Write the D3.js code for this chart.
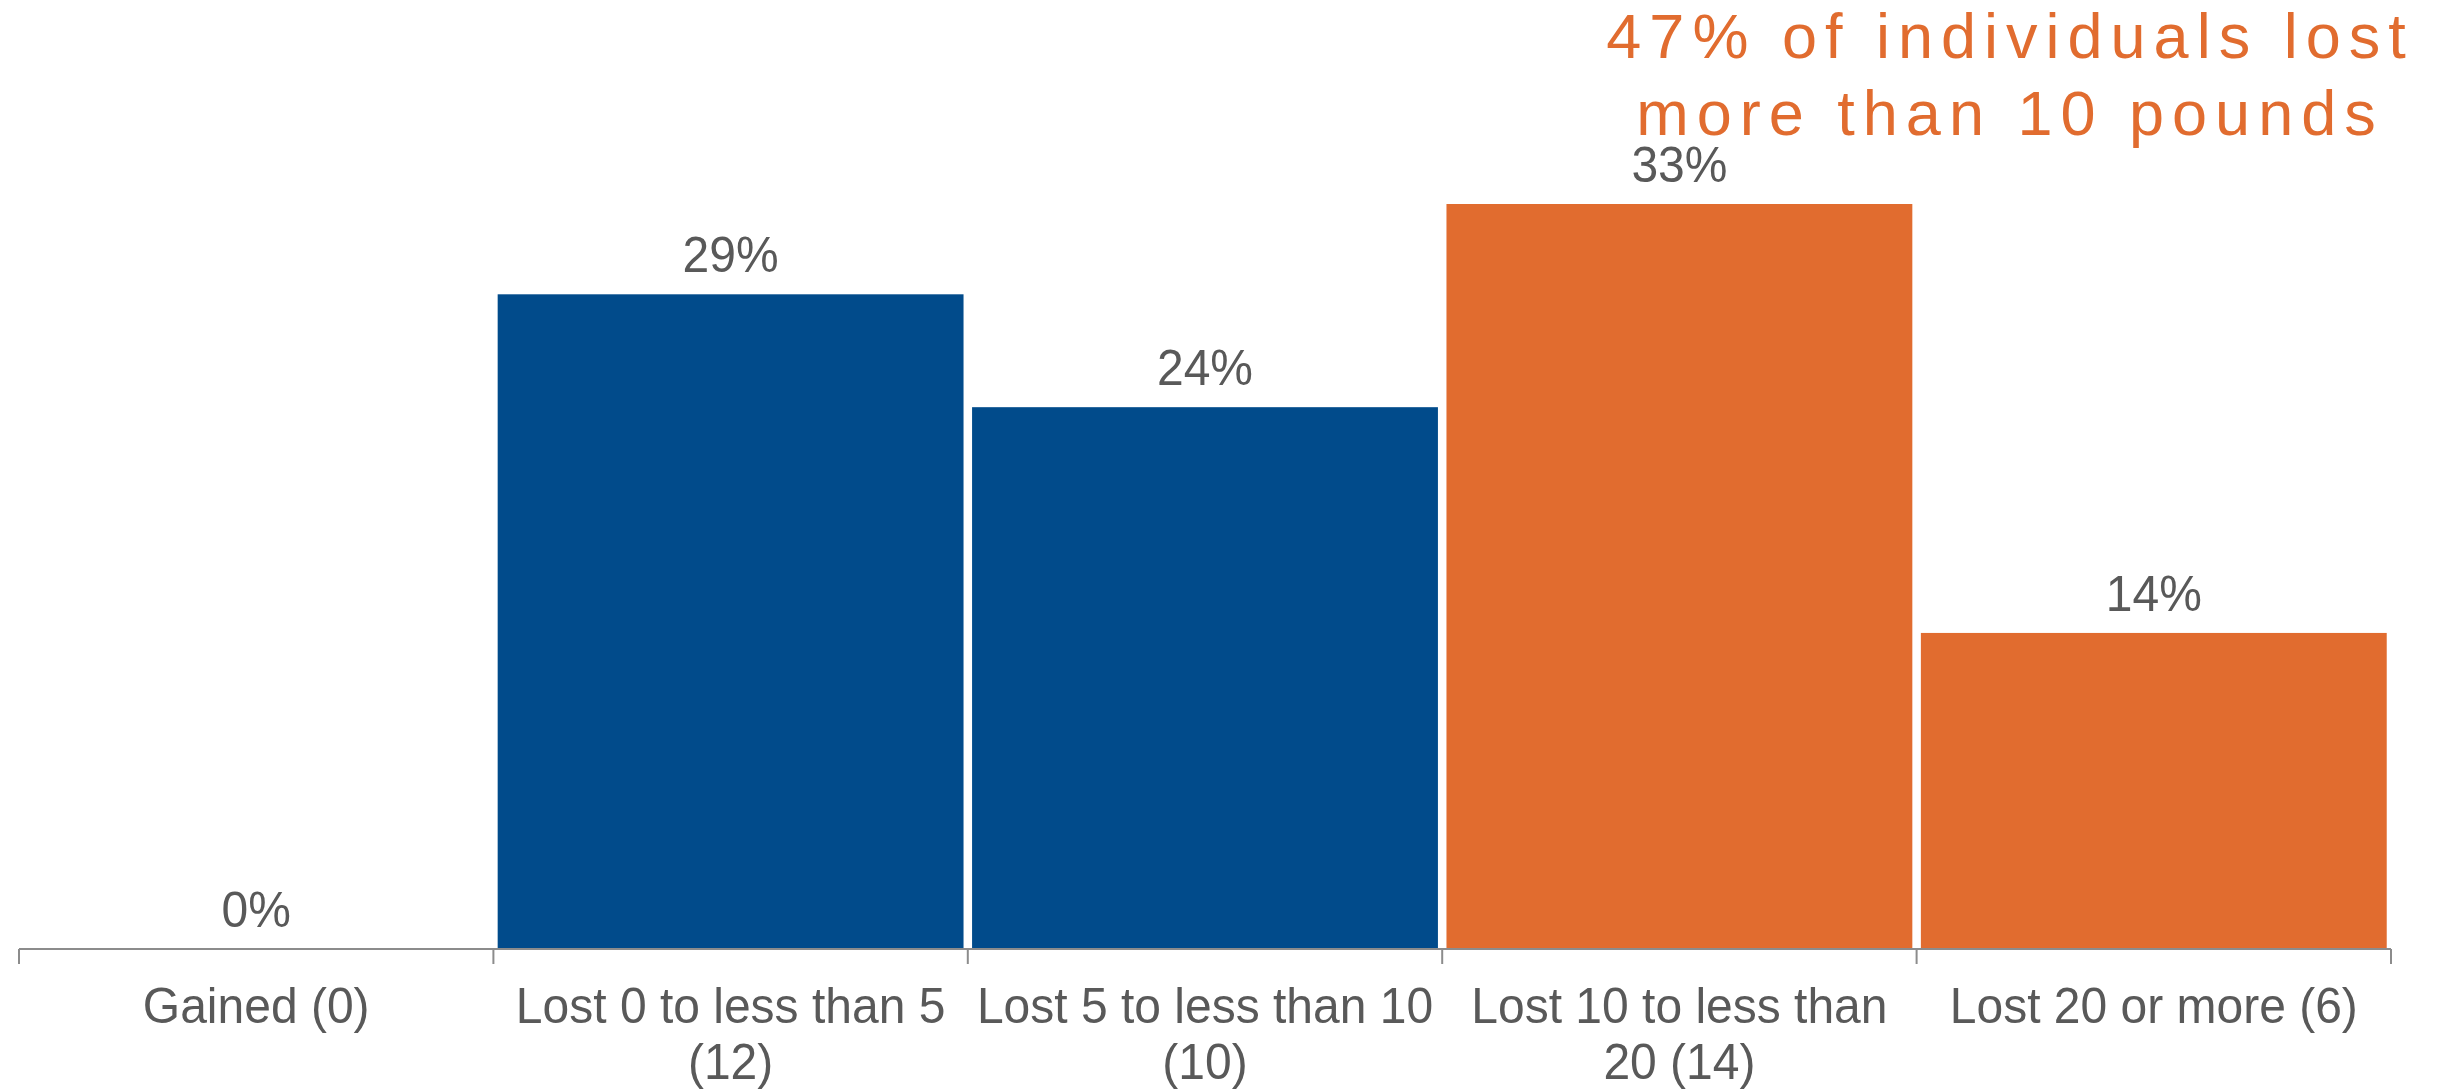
<!DOCTYPE html>
<html><head><meta charset="utf-8">
<script src="https://cdn.jsdelivr.net/npm/d3@7"></script>
<style>html,body{margin:0;padding:0;background:#fff;overflow:hidden}</style>
</head><body><svg id="c" width="2439" height="1090"></svg>
<script>
const categories = ["Gained (0)", "Lost 0 to less than 5 (12)", "Lost 5 to less than 10 (10)", "Lost 10 to less than 20 (14)", "Lost 20 or more (6)"];
const labelLines = [["Gained (0)"], ["Lost 0 to less than 5", "(12)"], ["Lost 5 to less than 10", "(10)"], ["Lost 10 to less than", "20 (14)"], ["Lost 20 or more (6)"]];
const values = [0, 29, 24, 33, 14];
const barColors = ["#014B8B", "#014B8B", "#014B8B", "#E16C2F", "#E16C2F"];
const titleLines = ["47% of individuals lost", "more than 10 pounds"];

const svg = d3.select("#c");
const font = "'Liberation Sans', Arial, sans-serif";
const x = d3.scaleBand().domain(categories).range([19, 2391]).paddingInner(0.018).paddingOuter(0.009);
const y = d3.scaleLinear().domain([0, 33]).range([949, 204]);

svg.selectAll("rect.bar").data(values).enter().append("rect")
  .attr("x", (d, i) => x(categories[i]))
  .attr("width", x.bandwidth())
  .attr("y", d => y(d))
  .attr("height", d => y(0) - y(d))
  .attr("fill", (d, i) => barColors[i]);

// axis line and category-boundary ticks
const ag = svg.append("g").attr("transform", `translate(0,${y(0)})`);
const edges = categories.map(c => x(c) - x.step() * x.paddingInner() / 2);
edges.push(x.range()[1]);
ag.append("line").attr("x1", edges[0]).attr("x2", edges[edges.length - 1]).attr("y1", 0).attr("y2", 0)
  .attr("stroke", "#8C8C8C").attr("stroke-width", 2);
ag.selectAll("line.tk").data(edges).enter().append("line")
  .attr("x1", d => d).attr("x2", d => d).attr("y1", 0).attr("y2", 15)
  .attr("stroke", "#8C8C8C").attr("stroke-width", 2);

// value labels
svg.selectAll("text.val").data(values).enter().append("text")
  .attr("transform", (d, i) => `translate(${x(categories[i]) + x.bandwidth() / 2},${y(d) - 22}) scale(1,1.04)`)
  .attr("text-anchor", "middle")
  .attr("font-family", font).attr("font-size", 48).attr("fill", "#595959")
  .text(d => d + "%");

// category labels
labelLines.forEach((lines, i) => {
  const cx = x(categories[i]) + x.bandwidth() / 2;
  lines.forEach((ln, j) => {
    svg.append("text").attr("transform", `translate(${cx},${1023 + j * 56}) scale(1,1.04)`)
      .attr("text-anchor", "middle").attr("font-family", font).attr("font-size", 48)
      .attr("fill", "#595959").text(ln);
  });
});

// title
titleLines.forEach((t, j) => {
  svg.append("text").attr("x", 2010).attr("y", 58 + j * 77)
    .attr("text-anchor", "middle").attr("font-family", font).attr("font-size", 63)
    .attr("letter-spacing", 8).attr("fill", "#E16C2F").text(t);
});
</script></body></html>
